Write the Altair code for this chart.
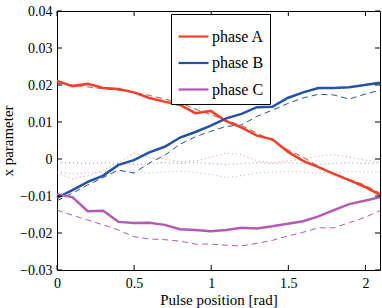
import altair as alt
import pandas as pd

N = 22
xmax = 2.0944
xs = [round(i * xmax / (N - 1), 4) for i in range(N)]

series_names = ["phase A", "phase B", "phase C"]
colors = ["#f0402a", "#2353a6", "#b45ab4"]

solid_A = [0.0211, 0.0197, 0.0203, 0.0192, 0.0189, 0.0180, 0.0165, 0.0155, 0.0146, 0.0124, 0.0130,
           0.0102, 0.0085, 0.0063, 0.0053, 0.0020, -0.0005, -0.0022, -0.0040, -0.0057, -0.0075, -0.0097]
solid_B = [-0.0105, -0.0084, -0.0062, -0.0045, -0.0016, -0.0003, 0.0018, 0.0033, 0.0058, 0.0073, 0.0090,
           0.0110, 0.0122, 0.0140, 0.0141, 0.0165, 0.0180, 0.0192, 0.0192, 0.0194, 0.0200, 0.0206]
solid_C = [-0.0095, -0.0103, -0.0141, -0.0140, -0.0170, -0.0173, -0.0172, -0.0178, -0.0190, -0.0192, -0.0195,
           -0.0192, -0.0186, -0.0188, -0.0182, -0.0175, -0.0168, -0.0155, -0.0138, -0.0122, -0.0113, -0.0103]

dashed_A = [0.0205, 0.0200, 0.0195, 0.0190, 0.0186, 0.0180, 0.0172, 0.0162, 0.0152, 0.0135, 0.0120,
            0.0105, 0.0090, 0.0070, 0.0050, 0.0025, 0.0005, -0.0020, -0.0040, -0.0055, -0.0070, -0.0092]
dashed_B = [-0.0113, -0.0092, -0.0070, -0.0050, -0.0030, -0.0038, -0.0011, 0.0010, 0.0040, 0.0060, 0.0075,
            0.0088, 0.0092, 0.0115, 0.0132, 0.0150, 0.0165, 0.0175, 0.0173, 0.0162, 0.0175, 0.0186]
dashed_C = [-0.0138, -0.0152, -0.0165, -0.0178, -0.0192, -0.0210, -0.0216, -0.0218, -0.0222, -0.0230, -0.0230,
            -0.0233, -0.0235, -0.0228, -0.0220, -0.0208, -0.0198, -0.0186, -0.0186, -0.0172, -0.0158, -0.0140]

dotted_A = [-0.0038, -0.0054, -0.0045, -0.0030, -0.0010, 0.0016, 0.0005, 0.0000, -0.0008, -0.0005, 0.0005,
            0.0016, 0.0012, -0.0005, -0.0010, -0.0005, 0.0000, 0.0008, 0.0012, 0.0005, -0.0003, -0.0008]
dotted_B = [-0.0010, -0.0010, -0.0012, -0.0010, -0.0012, -0.0015, -0.0012, -0.0010, -0.0012, -0.0010, -0.0012,
            -0.0015, -0.0012, -0.0010, -0.0012, -0.0010, -0.0012, -0.0015, -0.0012, -0.0010, -0.0012, -0.0010]
dotted_C = [-0.0035, -0.0040, -0.0038, -0.0035, -0.0032, -0.0035, -0.0038, -0.0035, -0.0033, -0.0036, -0.0042,
            -0.0050, -0.0045, -0.0038, -0.0035, -0.0033, -0.0035, -0.0038, -0.0035, -0.0033, -0.0035, -0.0035]

x_ticks = [0, 0.5, 1, 1.5, 2]
y_ticks = [-0.03, -0.02, -0.01, 0, 0.01, 0.02, 0.03, 0.04]

def frame(vals_list):
    rows = []
    for name, vals in zip(series_names, vals_list):
        for x, v in zip(xs, vals):
            rows.append({"x": x, "y": v, "series": name})
    return pd.DataFrame(rows)

df_solid = frame([solid_A, solid_B, solid_C])
df_dashed = frame([dashed_A, dashed_B, dashed_C])
df_dotted = frame([dotted_A, dotted_B, dotted_C])

W, H = 323, 259
FONT = "Liberation Serif"
LBL = "replace(format(datum.value, '~g'), '-', '\u2212')"

xscale = alt.Scale(domain=[0, xmax], nice=False, zero=False)
yscale = alt.Scale(domain=[-0.03, 0.04], nice=False, zero=False)
cscale = alt.Scale(domain=series_names, range=colors)

xaxis = alt.Axis(values=x_ticks, labelExpr=LBL, title="Pulse position [rad]", tickSize=0, domain=False,
                 grid=False, labelPadding=6, titlePadding=2, labelFlush=False, labelOverlap=False)
yaxis = alt.Axis(values=y_ticks, labelExpr=LBL, title="x parameter", tickSize=0, domain=False,
                 grid=False, labelPadding=5, titlePadding=4, labelFlush=False, labelOverlap=False)
legend = alt.Legend(
    title=None, orient="none", legendX=114, legendY=3, symbolType="stroke",
    symbolSize=900, symbolStrokeWidth=2.2, symbolOpacity=1, strokeColor="black", fillColor="white",
    cornerRadius=0, padding=6, labelFont=FONT, labelFontSize=16, labelColor="black", rowPadding=1.5,
    labelOffset=2)

def line_layer(df, **mark):
    return alt.Chart(df).mark_line(**mark).encode(
        x=alt.X("x:Q", scale=xscale, axis=xaxis),
        y=alt.Y("y:Q", scale=yscale, axis=yaxis),
        color=alt.Color("series:N", scale=cscale, legend=legend),
    )

dotted = line_layer(df_dotted, strokeWidth=1, strokeDash=[1, 3], opacity=0.6)
dashed = line_layer(df_dashed, strokeWidth=1, strokeDash=[6, 4])
solid = line_layer(df_solid, strokeWidth=2.5)

tdf_x = pd.DataFrame({"tx": x_ticks})
tdf_y = pd.DataFrame({"ty": y_ticks})
tick_bottom = alt.Chart(tdf_x).mark_rule(color="black", strokeWidth=1).encode(
    x=alt.X("tx:Q", scale=xscale, axis=xaxis), y=alt.value(H), y2=alt.value(H - 5))
tick_top = alt.Chart(tdf_x).mark_rule(color="black", strokeWidth=1).encode(
    x=alt.X("tx:Q", scale=xscale, axis=xaxis), y=alt.value(0), y2=alt.value(5))
tick_left = alt.Chart(tdf_y).mark_rule(color="black", strokeWidth=1).encode(
    y=alt.Y("ty:Q", scale=yscale, axis=yaxis), x=alt.value(0), x2=alt.value(5))
tick_right = alt.Chart(tdf_y).mark_rule(color="black", strokeWidth=1).encode(
    y=alt.Y("ty:Q", scale=yscale, axis=yaxis), x=alt.value(W), x2=alt.value(W - 5))

chart = alt.layer(dotted, dashed, solid, tick_bottom, tick_top, tick_left, tick_right).properties(
    width=W, height=H,
    autosize=alt.AutoSizeParams(type="none"),
    padding={"left": 57, "top": 11, "right": 2, "bottom": 38},
    background="white",
).configure_view(stroke="black", strokeWidth=1).configure_axis(
    labelFont=FONT, labelFontSize=14, labelColor="black",
    titleFont=FONT, titleFontSize=15, titleFontWeight="normal", titleColor="black",
)

chart.save("out.html", embed_options={"renderer": "svg", "actions": False})
